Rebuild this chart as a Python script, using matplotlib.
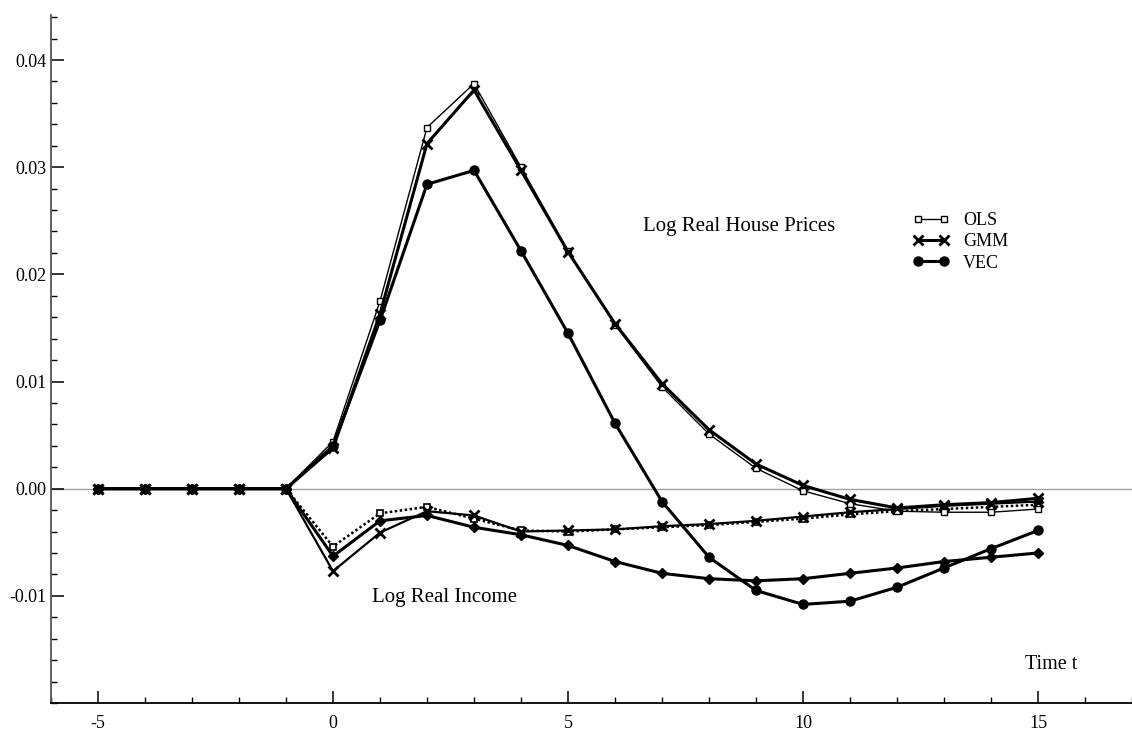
import matplotlib
matplotlib.use("Agg")
import matplotlib.pyplot as plt
from matplotlib.ticker import MultipleLocator, FixedLocator, FormatStrFormatter
from matplotlib.lines import Line2D
from matplotlib.legend_handler import HandlerLine2D

plt.rcParams["font.family"] = ["Liberation Serif", "DejaVu Serif"]
plt.rcParams["axes.unicode_minus"] = False

# Data: impulse responses, t = -5 .. 15
t = list(range(-5, 16))

house_ols = [0, 0, 0, 0, 0, 0.0044, 0.0175, 0.0337, 0.0378, 0.0300, 0.0222,
             0.0153, 0.0095, 0.0051, 0.0019, -0.0002, -0.0014, -0.0021,
             -0.0022, -0.0022, -0.0019]
house_gmm = [0, 0, 0, 0, 0, 0.0038, 0.0163, 0.0322, 0.0372, 0.0297, 0.0221,
             0.0154, 0.0098, 0.0055, 0.0023, 0.0003, -0.0010, -0.0018,
             -0.0015, -0.0013, -0.0009]
house_vec = [0, 0, 0, 0, 0, 0.0040, 0.0157, 0.0284, 0.0297, 0.0222, 0.0145,
             0.0061, -0.0012, -0.0064, -0.0095, -0.0108, -0.0105, -0.0092,
             -0.0074, -0.0056, -0.0039]

income_ols = [0, 0, 0, 0, 0, -0.0054, -0.0023, -0.0017, -0.0028, -0.0039,
              -0.0040, -0.0038, -0.0036, -0.0034, -0.0031, -0.0028, -0.0024,
              -0.0021, -0.0019, -0.0017, -0.0015]
income_gmm = [0, 0, 0, 0, 0, -0.0077, -0.0041, -0.0021, -0.0025, -0.0040,
              -0.0039, -0.0038, -0.0035, -0.0033, -0.0030, -0.0026, -0.0022,
              -0.0019, -0.0016, -0.0014, -0.0012]
income_vec = [0, 0, 0, 0, 0, -0.0063, -0.0030, -0.0025, -0.0036, -0.0043,
              -0.0053, -0.0068, -0.0079, -0.0084, -0.0086, -0.0084, -0.0079,
              -0.0074, -0.0068, -0.0064, -0.0060]

y_ticks = [-0.01, 0.0, 0.01, 0.02, 0.03, 0.04]

fig = plt.figure(figsize=(11.32, 7.35), dpi=100)
ax = fig.add_axes([51 / 1132, 32 / 735, (1132 - 51) / 1132, (703 - 15) / 735])

ax.axhline(0, color="#a0a0a0", lw=1.0, zorder=1)

# income responses
ax.plot(t, income_ols, color="black", lw=1.8, ls=(0, (1, 1)), marker="s",
        ms=5, mfc="white", mec="black", mew=1.2, zorder=3)
ax.plot(t, income_gmm, color="black", lw=1.6, marker="x", ms=7, mew=2,
        zorder=3)
ax.plot(t, income_vec, color="black", lw=2.2, marker="D", ms=5, zorder=3)

# house price responses
ax.plot(t, house_ols, color="black", lw=1.0, marker="s", ms=5, mfc="white",
        mec="black", mew=1.0, zorder=4)
ax.plot(t, house_gmm, color="black", lw=2.2, marker="x", ms=7, mew=2,
        zorder=4)
ax.plot(t, house_vec, color="black", lw=2.2, marker="o", ms=6.5, zorder=4)

ax.set_xlim(-6, 17)
ax.set_ylim(-0.02, 0.0442)

ax.xaxis.set_major_locator(MultipleLocator(5))
ax.xaxis.set_minor_locator(MultipleLocator(1))
ax.yaxis.set_major_locator(FixedLocator(y_ticks))
ax.yaxis.set_minor_locator(MultipleLocator(0.002))
ax.yaxis.set_major_formatter(FormatStrFormatter("%.2f"))

ax.tick_params(which="major", direction="in", length=9, width=1.1,
               labelsize=13, colors="black")
ax.tick_params(axis="x", which="major", pad=9)
ax.tick_params(axis="y", which="major", pad=3)
ax.tick_params(which="minor", direction="in", length=4.5, width=1)

for side in ["top", "right"]:
    ax.spines[side].set_visible(False)
ax.spines["left"].set_color("#555555")
ax.spines["left"].set_linewidth(1.3)
ax.spines["bottom"].set_linewidth(1.3)

ax.text(6.6, 0.0245, "Log Real House Prices", fontsize=15, va="center")
ax.text(0.84, -0.0102, "Log Real Income", fontsize=15, va="center")
ax.text(14.72, -0.0164, "Time t", fontsize=14.5, va="center")

handles = [
    Line2D([], [], color="black", lw=1.0, marker="s", ms=5, mfc="white",
           mec="black"),
    Line2D([], [], color="black", lw=2.2, marker="x", ms=7, mew=2),
    Line2D([], [], color="black", lw=2.2, marker="o", ms=6.5),
]
ax.legend(handles, ["OLS", "GMM", "VEC"], loc="upper left",
          bbox_to_anchor=(906 / 1132, 1 - 212 / 735),
          bbox_transform=fig.transFigure, frameon=False, fontsize=13,
          handlelength=2.8, handletextpad=0.35, labelspacing=0.24,
          borderpad=0, borderaxespad=0, numpoints=2,
          handler_map={Line2D: HandlerLine2D(marker_pad=0.69)})

fig.savefig("out.png", dpi=100)
